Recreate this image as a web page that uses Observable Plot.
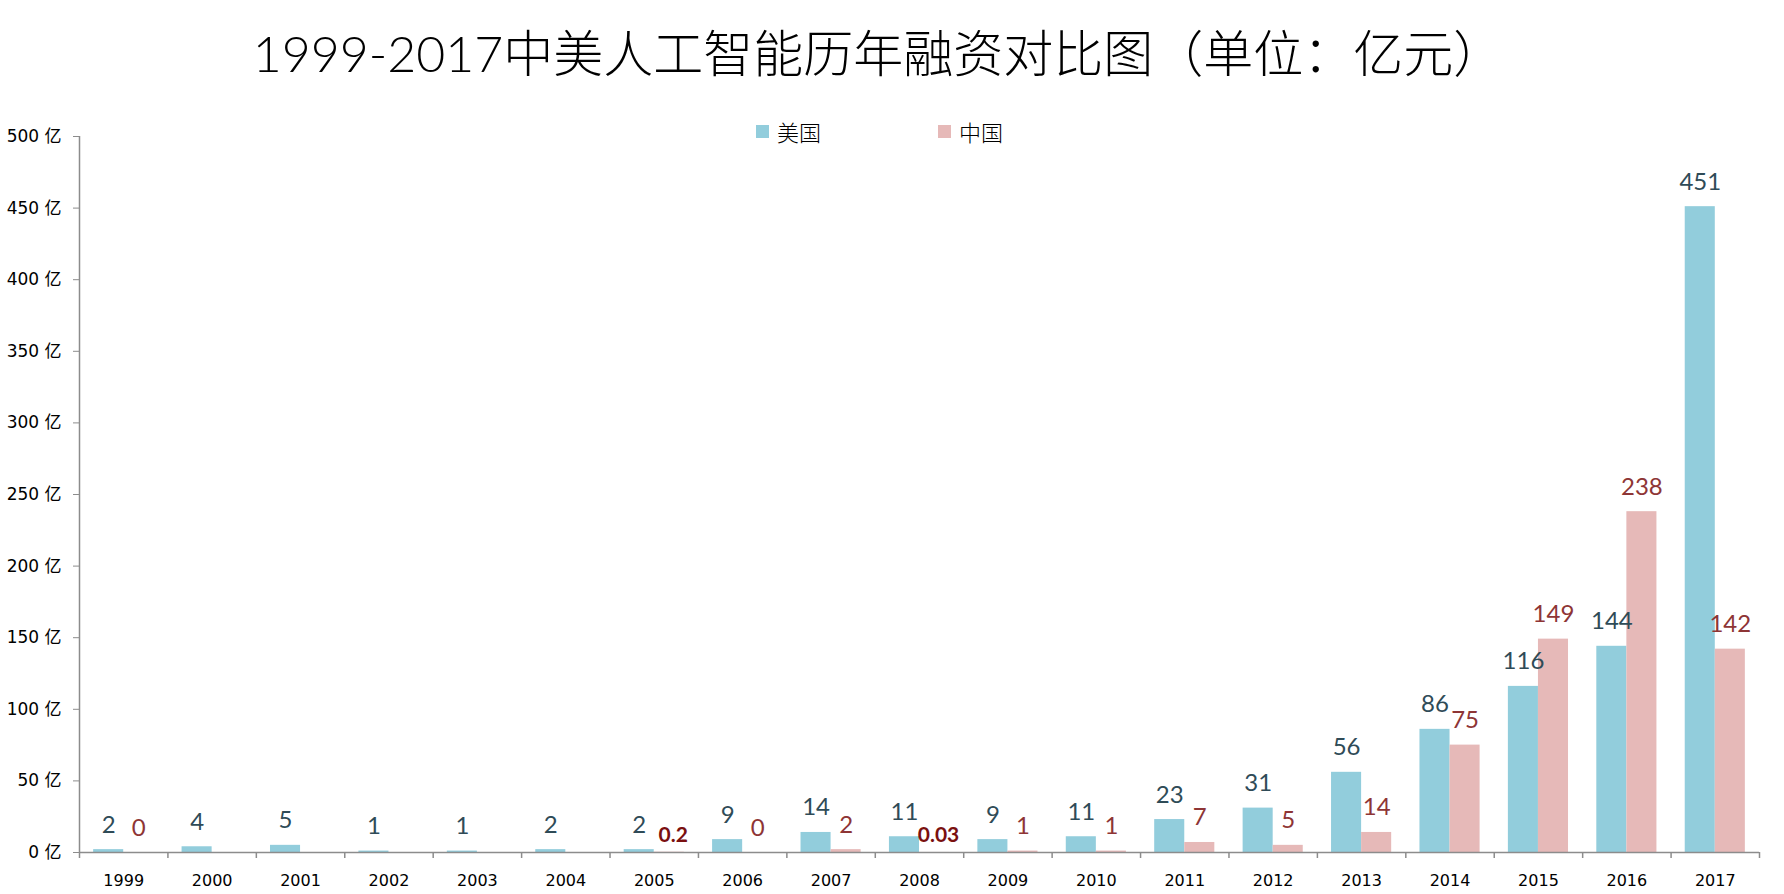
<!DOCTYPE html>
<html>
<head>
<meta charset="utf-8">
<script src="https://cdn.jsdelivr.net/npm/d3@7"></script>
<script src="https://cdn.jsdelivr.net/npm/@observablehq/plot@0.6"></script>
<style>
  body { margin: 0; background: #fff; }
  #wrap { position: relative; width: 1784px; height: 894px; background: #fff; }
  #head { height: 100px; }
  #title { position: absolute; left: 0; top: 28px; width: 1756px; text-align: center;
           font: 300 50px/50px "Lato", "Noto Sans CJK SC", sans-serif; color: #000; white-space: nowrap; }
  .leg { position: absolute; top: 119px; height: 24px; display: flex; align-items: center;
         font: 300 22px/24px "Noto Sans CJK SC", sans-serif; color: #000; }
  .sw { width: 13px; height: 13px; margin-right: 8px; }
</style>
</head>
<body>
<div id="wrap">
  <div id="head"><div id="title"></div></div>
  <div id="chart"></div>
</div>
<script>
const titleText = "1999-2017中美人工智能历年融资对比图（单位：亿元）";
const years = ["1999","2000","2001","2002","2003","2004","2005","2006","2007","2008","2009","2010","2011","2012","2013","2014","2015","2016","2017"];
const usValues = [2, 4, 5, 1, 1, 2, 2, 9, 14, 11, 9, 11, 23, 31, 56, 86, 116, 144, 451];
const cnValues = [0, null, null, null, null, null, 0.2, 0, 2, 0.03, 1, 1, 7, 5, 14, 75, 149, 238, 142];
const yTicks = [0, 50, 100, 150, 200, 250, 300, 350, 400, 450, 500];
const seriesNames = ["美国", "中国"];
const seriesColors = ["#92CDDC", "#E6B9B8"];

document.getElementById("title").textContent = titleText;

// legend
const legendLeft = [756, 938];
seriesNames.forEach((name, i) => {
  const item = document.createElement("div");
  item.className = "leg";
  item.style.left = legendLeft[i] + "px";
  const sw = document.createElement("div");
  sw.className = "sw";
  sw.style.background = seriesColors[i];
  const t = document.createElement("span");
  t.textContent = name;
  item.appendChild(sw); item.appendChild(t);
  document.getElementById("wrap").appendChild(item);
});

const us = years.map((year, i) => ({year, value: usValues[i]}));
const cn = years.map((year, i) => ({year, value: cnValues[i]})).filter(d => d.value != null);
const isTiny = d => d.value > 0 && d.value < 1;

const W = 1784, H = 794, ML = 79, MR = 25, MT = 36, MB = 42;
const step = (W - ML - MR) / years.length;
const half = step * 0.68 / 2;
const labelFont = "Lato, 'Noto Sans CJK SC', sans-serif";

const chart = Plot.plot({
  width: W, height: H,
  marginLeft: ML, marginRight: MR, marginTop: MT, marginBottom: MB,
  style: {fontFamily: "'DejaVu Sans', 'Noto Sans CJK SC', sans-serif", fontSize: "16px", color: "#000", background: "#fff"},
  x: {type: "band", domain: years, paddingInner: 0.32, paddingOuter: 0.16, round: false, label: null},
  y: {domain: [0, 500], label: null},
  marks: [
    Plot.barY(us, {x: "year", y: "value", fill: seriesColors[0], insetRight: half}),
    Plot.barY(cn, {x: "year", y: "value", fill: seriesColors[1], insetLeft: half}),
    Plot.ruleY([0], {stroke: "#8c8c8c", strokeWidth: 1.5}),
    Plot.ruleX([years[0]], {x: d => d, dx: -step / 2, stroke: "#8c8c8c", strokeWidth: 1.5}),
    Plot.ruleX(years, {x: d => d, dx: -step / 2, stroke: "#8c8c8c", strokeWidth: 1.5, insetTop: H - MT - MB, insetBottom: -6}),
    Plot.ruleX([years[years.length - 1]], {x: d => d, dx: step / 2, stroke: "#8c8c8c", strokeWidth: 1.5, insetTop: H - MT - MB, insetBottom: -6}),
    Plot.axisY({ticks: yTicks, tickFormat: d => `${d} 亿`, tickSize: 6, tickPadding: 12, stroke: "#8c8c8c", fill: "#000", fontSize: 17, label: null}),
    Plot.axisX({tickSize: 0, tickPadding: 22, fontSize: 16, fill: "#000", label: null}),
    Plot.text(us, {x: "year", y: "value", text: d => String(d.value), dx: -half / 2, dy: -17, lineAnchor: "bottom",
      fill: "#2f4b57", fontSize: 24, fontFamily: labelFont}),
    Plot.text(cn.filter(d => !isTiny(d)), {x: "year", y: "value", text: d => String(d.value), dx: half / 2, dy: -17, lineAnchor: "bottom",
      fill: "#8e3535", fontSize: 24, fontFamily: labelFont}),
    Plot.text(cn.filter(isTiny), {x: "year", y: "value", text: d => String(d.value), dx: half / 2 + 4, dy: -10, lineAnchor: "bottom",
      fill: "#7a1010", fontSize: 21, fontWeight: "bold", fontFamily: labelFont})
  ]
});
document.getElementById("chart").appendChild(chart);
</script>
</body>
</html>
